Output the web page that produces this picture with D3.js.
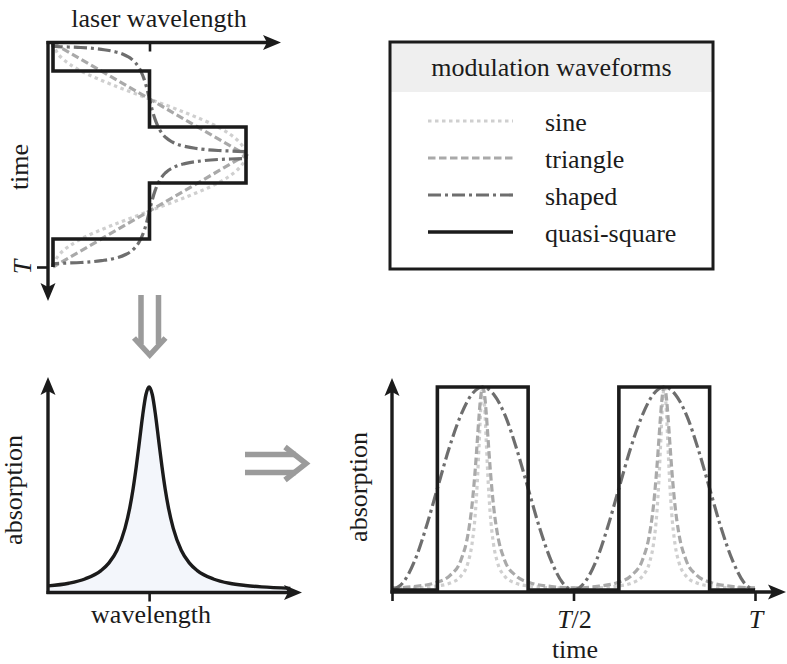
<!DOCTYPE html>
<html>
<head>
<meta charset="utf-8">
<script src="https://cdn.jsdelivr.net/npm/d3@7"></script>
<style>
  html, body { margin: 0; padding: 0; background: #fff; }
  svg { display: block; }
  svg text { font-family: "Liberation Serif", "DejaVu Serif", serif; }
</style>
</head>
<body>
<svg id="chart" width="787" height="664" font-family="Liberation Serif, DejaVu Serif, serif"></svg>
<script>
// ---------- data ----------
// Laser wavelength vs time over one period T (wavelength normalised: -1 = min, 0 = line centre, 1 = max)
const waveTime = [0, 0.0625, 0.125, 0.1875, 0.25, 0.3125, 0.375, 0.4375, 0.5, 0.5625, 0.625, 0.6875, 0.75, 0.8125, 0.875, 0.9375, 1];
const sineWave = [-1, -0.92, -0.71, -0.38, 0, 0.38, 0.71, 0.92, 1, 0.92, 0.71, 0.38, 0, -0.38, -0.71, -0.92, -1];

const triangleTime = [0, 0.5, 1];
const triangleWave = [-1, 1, -1];

const shapedTime = [0, 0.0143, 0.02, 0.03, 0.04, 0.06, 0.08, 0.10, 0.13, 0.16, 0.20, 0.25, 0.30, 0.34, 0.37, 0.40, 0.42, 0.44, 0.46, 0.47, 0.48, 0.4857, 0.5,
                    0.5143, 0.52, 0.53, 0.54, 0.56, 0.58, 0.60, 0.63, 0.66, 0.70, 0.75, 0.80, 0.84, 0.87, 0.90, 0.92, 0.94, 0.96, 0.97, 0.98, 0.9857, 1];
const shapedWave = [-1, -1, -0.713, -0.472, -0.350, -0.228, -0.164, -0.124, -0.085, -0.057, -0.029, 0, 0.029, 0.057, 0.085, 0.124, 0.164, 0.228, 0.350, 0.472, 0.713, 1, 1,
                    1, 0.713, 0.472, 0.350, 0.228, 0.164, 0.124, 0.085, 0.057, 0.029, 0, -0.029, -0.057, -0.085, -0.124, -0.164, -0.228, -0.350, -0.472, -0.713, -1, -1];

const squareTime = [0, 0.125, 0.125, 0.375, 0.375, 0.625, 0.625, 0.875, 0.875, 1];
const squareWave = [-1, -1, 0, 0, 1, 1, 0, 0, -1, -1];

// Absorption line shape vs detuning (in half-widths)
const detuning  = [-6.3, -5, -4, -3, -2.5, -2, -1.5, -1.2, -1, -0.8, -0.6, -0.4, -0.2, 0, 0.2, 0.4, 0.6, 0.8, 1, 1.2, 1.5, 2, 2.5, 3, 4, 5, 6, 7, 8.8];
const lineShape = [0.025, 0.038, 0.059, 0.100, 0.138, 0.200, 0.308, 0.410, 0.500, 0.610, 0.735, 0.862, 0.962, 1, 0.962, 0.862, 0.735, 0.610, 0.500, 0.410, 0.308, 0.200, 0.138, 0.100, 0.059, 0.038, 0.027, 0.020, 0.013];

// Resulting absorption vs time for each waveform
const absTime = [0, 0.06, 0.12, 0.16, 0.19, 0.21, 0.22, 0.23, 0.235, 0.24, 0.245, 0.25, 0.255, 0.26, 0.265, 0.27, 0.28, 0.29, 0.31, 0.34, 0.38, 0.44, 0.5,
                 0.56, 0.62, 0.66, 0.69, 0.71, 0.72, 0.73, 0.735, 0.74, 0.745, 0.75, 0.755, 0.76, 0.765, 0.77, 0.78, 0.79, 0.81, 0.84, 0.88, 0.94, 1];
const sineAbs = [0.010, 0.011, 0.019, 0.034, 0.069, 0.139, 0.222, 0.389, 0.530, 0.717, 0.910, 1, 0.910, 0.717, 0.530, 0.389, 0.222, 0.139, 0.069, 0.034, 0.019, 0.011, 0.010,
                 0.011, 0.019, 0.034, 0.069, 0.139, 0.222, 0.389, 0.530, 0.717, 0.910, 1, 0.910, 0.717, 0.530, 0.389, 0.222, 0.139, 0.069, 0.034, 0.019, 0.011, 0.010];
const triangleAbs = [0.010, 0.017, 0.036, 0.072, 0.148, 0.281, 0.410, 0.610, 0.735, 0.862, 0.962, 1, 0.962, 0.862, 0.735, 0.610, 0.410, 0.281, 0.148, 0.072, 0.036, 0.017, 0.010,
                     0.017, 0.036, 0.072, 0.148, 0.281, 0.410, 0.610, 0.735, 0.862, 0.962, 1, 0.962, 0.862, 0.735, 0.610, 0.410, 0.281, 0.148, 0.072, 0.036, 0.017, 0.010];

const shapedAbsTime = [0, 0.031, 0.063, 0.094, 0.125, 0.156, 0.188, 0.219, 0.25, 0.281, 0.313, 0.344, 0.375, 0.406, 0.438, 0.469, 0.5,
                       0.531, 0.563, 0.594, 0.625, 0.656, 0.688, 0.719, 0.75, 0.781, 0.813, 0.844, 0.875, 0.906, 0.938, 0.969, 1];
const shapedAbs = [0, 0.038, 0.146, 0.309, 0.5, 0.691, 0.854, 0.962, 1, 0.962, 0.854, 0.691, 0.5, 0.309, 0.146, 0.038, 0,
                   0.038, 0.146, 0.309, 0.5, 0.691, 0.854, 0.962, 1, 0.962, 0.854, 0.691, 0.5, 0.309, 0.146, 0.038, 0];

const squareAbsTime = [0, 0.125, 0.125, 0.375, 0.375, 0.625, 0.625, 0.875, 0.875, 1];
const squareAbs = [0, 0, 1, 1, 0, 0, 1, 1, 0, 0];

const legendLabels = ["sine", "triangle", "shaped", "quasi-square"];
const timeTicks = [0, 0.5, 1];

// ---------- styles ----------
const INK = "#1b1b1b";
const ARROW_GREY = "#9b9b9b";
const FONT = 26;
const SERIF = "Liberation Serif, DejaVu Serif, serif";
const lineStyle = {
  "sine":         { color: "#cfcfcf", dash: "3.5,3.5",   width: 3.2 },
  "triangle":     { color: "#a9a9a9", dash: "7.5,3.5",   width: 3.2 },
  "shaped":       { color: "#6e6e6e", dash: "13,4,3,4",  width: 3.2 },
  "quasi-square": { color: INK,       dash: null,        width: 3.6 }
};

const svg = d3.select("#chart");

function styled(sel, key) {
  const s = lineStyle[key];
  sel.attr("fill", "none")
     .attr("stroke", s.color)
     .attr("stroke-width", s.width)
     .attr("stroke-dasharray", s.dash)
     .attr("stroke-linejoin", "miter");
  return sel;
}

function label(g, txt) {
  return g.append("text").attr("font-family", SERIF).attr("font-size", FONT).attr("fill", INK).text(txt);
}

function arrowHead(g, x, y, angle) {
  g.append("path")
    .attr("d", "M0,0 L-18,-7.5 L-14,0 L-18,7.5 Z")
    .attr("transform", `translate(${x},${y}) rotate(${angle})`)
    .attr("fill", INK);
}

function axisLine(g, x1, y1, x2, y2) {
  g.append("line")
    .attr("x1", x1).attr("y1", y1).attr("x2", x2).attr("y2", y2)
    .attr("stroke", INK).attr("stroke-width", 3.4);
}

function styleTicks(g) {
  g.select(".domain").remove();
  g.selectAll(".tick line").attr("stroke", INK).attr("stroke-width", 2.6);
  g.selectAll(".tick text").remove();
}

function zip(a, b) { return a.map((d, i) => [d, b[i]]); }

// ---------- panel 1: wavelength modulation vs time ----------
const p1 = { left: 48, top: 42.5, right: 281, bottom: 301 };
const xWave = d3.scaleLinear().domain([-1, 1]).range([53, 246]);
const yTime = d3.scaleLinear().domain([0, 1]).range([43, 267]);

const g1 = svg.append("g");
const waveLine = d3.line().x(d => xWave(d[1])).y(d => yTime(d[0]));

styled(g1.append("path").attr("d", waveLine.curve(d3.curveMonotoneY)(zip(waveTime, sineWave))), "sine");
styled(g1.append("path").attr("d", waveLine.curve(d3.curveLinear)(zip(triangleTime, triangleWave))), "triangle");
styled(g1.append("path").attr("d", waveLine.curve(d3.curveMonotoneY)(zip(shapedTime, shapedWave))), "shaped");
styled(g1.append("path").attr("d", waveLine.curve(d3.curveLinear)(zip(squareTime, squareWave))), "quasi-square");

axisLine(g1, p1.left - 1.5, p1.top, p1.right - 12, p1.top);
arrowHead(g1, p1.right, p1.top, 0);
axisLine(g1, p1.left, p1.top - 1.5, p1.left, p1.bottom - 12);
arrowHead(g1, p1.left, p1.bottom, 90);

g1.append("g").attr("transform", `translate(0,${p1.top})`)
  .call(d3.axisBottom(xWave).tickValues([0]).tickSize(9)).call(styleTicks);
g1.append("g").attr("transform", `translate(${p1.left},0)`)
  .call(d3.axisLeft(yTime).tickValues([1]).tickSize(11)).call(styleTicks);

label(g1, "laser wavelength").attr("x", 159).attr("y", 27).attr("text-anchor", "middle");
label(g1, "time").attr("transform", "translate(28,167) rotate(-90)").attr("text-anchor", "middle");
label(g1, "T").attr("transform", `translate(31,${yTime(1)}) rotate(-90)`).attr("text-anchor", "middle")
  .attr("font-style", "italic");

// ---------- legend ----------
const lg = svg.append("g");
const box = { x: 390, y: 42, w: 323, h: 227, head: 50 };
lg.append("rect").attr("x", box.x).attr("y", box.y).attr("width", box.w).attr("height", box.head)
  .attr("fill", "#efefef");
lg.append("rect").attr("x", box.x).attr("y", box.y).attr("width", box.w).attr("height", box.h)
  .attr("fill", "none").attr("stroke", INK).attr("stroke-width", 3);
label(lg, "modulation waveforms").attr("x", box.x + box.w / 2).attr("y", 76).attr("text-anchor", "middle");

const legendY = d3.scalePoint().domain(legendLabels).range([121, 232]);
legendLabels.forEach(k => {
  const y = legendY(k);
  styled(lg.append("line").attr("x1", 428).attr("x2", 513).attr("y1", y).attr("y2", y), k);
  label(lg, k).attr("x", 545).attr("y", y + 9.5);
});

// ---------- transition arrows ----------
const ga = svg.append("g").attr("fill", "none").attr("stroke", ARROW_GREY)
  .attr("stroke-width", 5.5).attr("stroke-linejoin", "miter").attr("stroke-miterlimit", 10);
ga.append("path").attr("d", "M141,295 V344 M158.5,295 V344");
ga.append("path").attr("d", "M134,338 L149.75,355 L165.5,338");
ga.append("path").attr("d", "M245,454.5 H296 M245,472.5 H296");
ga.append("path").attr("d", "M285,447 L306,463.5 L285,480");

// ---------- panel 2: absorption line ----------
const p2 = { left: 48, base: 592.5, right: 302, top: 377 };
const xDet = d3.scaleLinear().domain([-6.3, 9.4]).range([48, 300]);
const yAbsL = d3.scaleLinear().domain([0, 1]).range([591, 387]);
const g2 = svg.append("g");
const lineData = zip(detuning, lineShape);

g2.append("path")
  .attr("d", d3.area().x(d => xDet(d[0])).y0(yAbsL(0)).y1(d => yAbsL(d[1])).curve(d3.curveMonotoneX)(lineData))
  .attr("fill", "#f3f6fb");
g2.append("path")
  .attr("d", d3.line().x(d => xDet(d[0])).y(d => yAbsL(d[1])).curve(d3.curveMonotoneX)(lineData))
  .attr("fill", "none").attr("stroke", INK).attr("stroke-width", 3.4);

axisLine(g2, p2.left - 1.5, p2.base, p2.right - 12, p2.base);
arrowHead(g2, p2.right, p2.base, 0);
axisLine(g2, p2.left, p2.base + 1.5, p2.left, p2.top + 12);
arrowHead(g2, p2.left, p2.top, -90);
g2.append("g").attr("transform", `translate(0,${p2.base})`)
  .call(d3.axisBottom(xDet).tickValues([0]).tickSize(9)).call(styleTicks);

label(g2, "wavelength").attr("x", 151).attr("y", 623).attr("text-anchor", "middle");
label(g2, "absorption").attr("transform", "translate(22,490) rotate(-90)").attr("text-anchor", "middle");

// ---------- panel 3: absorption vs time ----------
const p3 = { left: 392, base: 592, right: 786, top: 378 };
const xT = d3.scaleLinear().domain([0, 1]).range([392, 755]);
const yAbsR = d3.scaleLinear().domain([0, 1]).range([590, 387]);
const g3 = svg.append("g");
const absLine = d3.line().x(d => xT(d[0])).y(d => yAbsR(d[1]));

styled(g3.append("path").attr("d", absLine.curve(d3.curveMonotoneX)(zip(absTime, sineAbs))), "sine");
styled(g3.append("path").attr("d", absLine.curve(d3.curveMonotoneX)(zip(absTime, triangleAbs))), "triangle");
styled(g3.append("path").attr("d", absLine.curve(d3.curveMonotoneX)(zip(shapedAbsTime, shapedAbs))), "shaped");
styled(g3.append("path").attr("d", absLine.curve(d3.curveLinear)(zip(squareAbsTime, squareAbs))), "quasi-square");

axisLine(g3, p3.left - 1.5, p3.base, p3.right - 12, p3.base);
arrowHead(g3, p3.right, p3.base, 0);
axisLine(g3, p3.left, p3.base + 1.5, p3.left, p3.top + 12);
arrowHead(g3, p3.left, p3.top, -90);
g3.append("g").attr("transform", `translate(0,${p3.base})`)
  .call(d3.axisBottom(xT).tickValues(timeTicks).tickSize(9)).call(styleTicks);

const halfLabel = label(g3, null).attr("x", xT(0.5) + 1).attr("y", 628).attr("text-anchor", "middle");
halfLabel.append("tspan").attr("font-style", "italic").text("T");
halfLabel.append("tspan").text("/2");
label(g3, "T").attr("x", xT(1) + 1).attr("y", 628).attr("text-anchor", "middle").attr("font-style", "italic");
label(g3, "time").attr("x", 575).attr("y", 658).attr("text-anchor", "middle");
label(g3, "absorption").attr("transform", "translate(367,487) rotate(-90)").attr("text-anchor", "middle");
</script>
</body>
</html>
